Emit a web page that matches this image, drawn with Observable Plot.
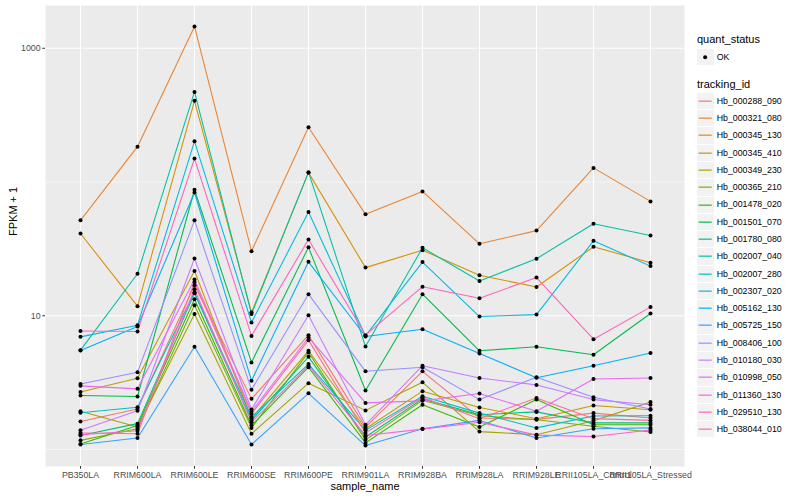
<!DOCTYPE html>
<html><head><meta charset="utf-8">
<script src="https://cdn.jsdelivr.net/npm/d3@7"></script>
<script src="https://cdn.jsdelivr.net/npm/@observablehq/plot@0.6"></script>
<style>
body{margin:0;background:#fff;font-family:"Liberation Sans",Arial,Helvetica,sans-serif;}
#wrap{position:relative;width:800px;height:500px;overflow:hidden;}
#chart{position:absolute;left:0;top:0;}
.lg{position:absolute;white-space:nowrap;line-height:1;}
.lt{font-size:11px;color:#000;}
.ll{font-size:8.8px;color:#000;}
.key{position:absolute;width:16.3px;height:16.3px;background:#F2F2F2;}
</style></head><body>
<div id="wrap"><div id="chart"></div><div id="legend"></div></div>
<script>
const samples = ["PB350LA","RRIM600LA","RRIM600LE","RRIM600SE","RRIM600PE","RRIM901LA","RRIM928BA","RRIM928LA","RRIM928LE","RRII105LA_Control","RRII105LA_Stressed"];
const trackingIds = ["Hb_000288_090","Hb_000321_080","Hb_000345_130","Hb_000345_410","Hb_000349_230","Hb_000365_210","Hb_001478_020","Hb_001501_070","Hb_001780_080","Hb_002007_040","Hb_002007_280","Hb_002307_020","Hb_005162_130","Hb_005725_150","Hb_008406_100","Hb_010180_030","Hb_010998_050","Hb_011360_130","Hb_029510_130","Hb_038044_010"];
const colors = ["#F8766D","#EA8331","#D89000","#C09B00","#A3A500","#7CAE00","#39B600","#00BB4E","#00BF7D","#00C1A3","#00BFC4","#00BAE0","#00B0F6","#35A2FF","#9590FF","#C77CFF","#E76BF3","#FA62DB","#FF62BC","#FF6C91"];
const quantStatus = ["OK"];

// FPKM + 1 per sample, in the order of `samples`
const Hb_000288_090 = [1.62, 2.01, 16.9, 2.39, 7.16, 1.47, 3.84, 1.72, 1.68, 1.87, 1.72];
const Hb_000321_080 = [51.7, 183.8, 1456, 30.4, 256.4, 57.3, 85.0, 34.5, 43.3, 127.5, 71.6];
const Hb_000345_130 = [41.2, 11.8, 404.4, 10.6, 117.5, 22.9, 30.9, 20.1, 16.4, 32.8, 24.9];
const Hb_000345_410 = [2.69, 3.41, 21.6, 1.70, 5.47, 1.43, 2.73, 2.06, 1.70, 2.13, 1.98];
const Hb_000349_230 = [1.93, 1.47, 10.3, 1.31, 3.13, 1.96, 3.18, 1.36, 1.29, 1.64, 2.26];
const Hb_000365_210 = [1.17, 1.43, 12.0, 1.45, 5.32, 1.18, 2.33, 1.79, 1.67, 1.49, 1.35];
const Hb_001478_020 = [1.10, 1.51, 13.3, 1.51, 4.12, 1.12, 2.16, 1.47, 2.36, 1.53, 1.53];
const Hb_001501_070 = [2.53, 2.49, 87.5, 4.48, 32.5, 2.76, 14.5, 5.47, 5.86, 5.11, 10.4];
const Hb_001780_080 = [1.27, 1.56, 14.7, 1.65, 4.93, 1.24, 2.39, 1.82, 1.91, 1.58, 1.58];
const Hb_002007_040 = [5.53, 20.6, 471.8, 10.3, 118.5, 5.88, 32.2, 18.2, 26.7, 48.8, 39.8];
const Hb_002007_280 = [1.88, 2.07, 15.0, 1.75, 4.35, 1.39, 2.50, 1.87, 1.45, 1.78, 1.79];
const Hb_002307_020 = [6.95, 8.50, 201.6, 8.90, 59.7, 7.07, 25.2, 9.86, 10.2, 36.3, 23.5];
const Hb_005162_130 = [5.49, 8.31, 83.5, 3.27, 25.3, 7.00, 7.93, 5.23, 3.44, 4.23, 5.26];
const Hb_005725_150 = [1.09, 1.22, 5.86, 1.09, 2.63, 1.07, 1.43, 1.65, 1.22, 1.43, 1.45];
const Hb_008406_100 = [3.09, 3.78, 51.7, 2.80, 14.5, 3.84, 4.12, 2.36, 3.47, 2.46, 2.01];
const Hb_010180_030 = [1.39, 1.95, 26.8, 1.99, 10.1, 1.53, 4.23, 3.42, 3.04, 2.36, 2.16];
const Hb_010998_050 = [2.99, 2.84, 18.7, 1.92, 6.88, 2.23, 2.31, 2.62, 1.93, 3.37, 3.42];
const Hb_011360_130 = [1.29, 1.38, 15.8, 1.60, 4.23, 1.27, 1.42, 1.60, 1.28, 1.25, 1.40];
const Hb_029510_130 = [7.70, 7.63, 149.6, 7.07, 37.1, 7.16, 16.5, 13.5, 19.3, 6.68, 11.6];
const Hb_038044_010 = [1.33, 1.31, 17.9, 1.85, 6.57, 1.33, 2.45, 1.70, 2.43, 1.70, 1.65];

const yMajor = [10, 1000];
const yMinor = [1, 100];

const seriesValues = [Hb_000288_090,Hb_000321_080,Hb_000345_130,Hb_000345_410,Hb_000349_230,Hb_000365_210,Hb_001478_020,Hb_001501_070,Hb_001780_080,Hb_002007_040,Hb_002007_280,Hb_002307_020,Hb_005162_130,Hb_005725_150,Hb_008406_100,Hb_010180_030,Hb_010998_050,Hb_011360_130,Hb_029510_130,Hb_038044_010];

const rows = [];
trackingIds.forEach((id, i) => {
  seriesValues[i].forEach((v, j) => rows.push({id, sample: samples[j], value: v, status: "OK"}));
});

const ext = d3.extent(rows, d => Math.log10(d.value));
const span = ext[1] - ext[0];
const yDomain = [10 ** (ext[0] - 0.05 * span), 10 ** (ext[1] + 0.05 * span)];
const font = '"Liberation Sans", Arial, Helvetica, sans-serif';

const plot = Plot.plot({
  width: 690, height: 500,
  marginLeft: 45, marginRight: 6, marginTop: 5, marginBottom: 34,
  style: {fontFamily: font, background: "transparent", overflow: "visible"},
  x: {type: "point", domain: samples, padding: 0.6, label: null},
  y: {type: "log", domain: yDomain, label: null},
  color: {domain: trackingIds, range: colors},
  marks: [
    Plot.frame({fill: "#EBEBEB", stroke: null}),
    Plot.ruleY(yMinor, {stroke: "white", strokeWidth: 0.53}),
    Plot.ruleY(yMajor, {stroke: "white", strokeWidth: 1.07}),
    Plot.ruleX(samples, {stroke: "white", strokeWidth: 1.07}),
    Plot.line(rows, {x: "sample", y: "value", z: "id", stroke: "id", strokeWidth: 1.07}),
    Plot.dot(rows, {x: "sample", y: "value", r: 2, fill: "black", stroke: null}),
    Plot.axisX({tickSize: 2.7, tickPadding: 2.6, fontSize: 8.8, stroke: "#333333", fill: "#4D4D4D", label: null}),
    Plot.axisY({ticks: yMajor, tickFormat: d => String(d), tickSize: 2.7, tickPadding: 2.2, fontSize: 8.8, stroke: "#333333", fill: "#4D4D4D", label: null}),
    Plot.text(["sample_name"], {frameAnchor: "bottom", dy: 23, fontSize: 11, fill: "black", text: d => d}),
    Plot.text(["FPKM + 1"], {frameAnchor: "left", dx: -32, rotate: -90, fontSize: 11, fill: "black", text: d => d})
  ]
});
document.getElementById("chart").appendChild(plot);

// Legend
const lg = document.getElementById("legend");
function add(html, cls, left, top) {
  const el = document.createElement("div");
  el.className = cls;
  el.style.left = left + "px";
  el.style.top = top + "px";
  el.innerHTML = html;
  lg.appendChild(el);
  return el;
}
add("quant_status", "lg lt", 697, 34);
const k0 = add("", "key", 697.3, 49.2);
k0.innerHTML = '<svg width="16.3" height="16.3" style="position:absolute;left:0;top:0"><circle cx="8.15" cy="8.15" r="2" fill="black"/></svg>';
add(quantStatus[0], "lg ll", 716.7, 53.3);
add("tracking_id", "lg lt", 697, 79);
const step = 17.28;
trackingIds.forEach((id, i) => {
  const cy = 101 + i * step;
  const k = add("", "key", 697.3, cy - 8.15);
  k.innerHTML = `<svg width="16.3" height="16.3" style="position:absolute;left:0;top:0"><line x1="1.6" x2="14.7" y1="8.15" y2="8.15" stroke="${colors[i]}" stroke-width="1.2"/></svg>`;
  add(id, "lg ll", 716.7, cy - 4.2);
});
</script>
</body></html>
